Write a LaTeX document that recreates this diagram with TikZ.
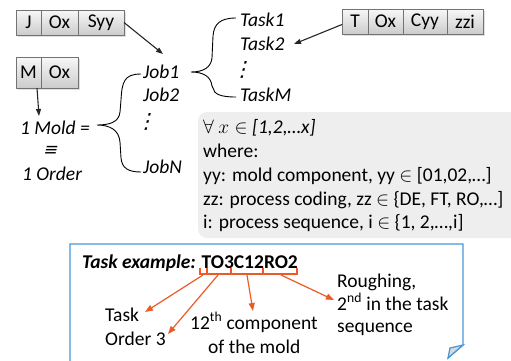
\documentclass[tikz,border=0pt]{standalone}
\usepackage{fix-cm}
\usepackage{fontspec}
\setmainfont{Carlito}
\newfontfamily\dotsfont[FakeSlant=0.25]{DejaVu Sans}
\usetikzlibrary{shadows,arrows.meta}
\definecolor{bluec}{RGB}{70,150,220}
\definecolor{orangec}{RGB}{236,90,40}
\begin{document}
\begin{tikzpicture}[x=1pt,y=-1pt,
  font=\fontsize{19.5}{23.5}\selectfont,
  cellbox/.style={draw=black!55, top color=gray!6, bottom color=gray!40,
    minimum height=25pt, inner sep=0pt, outer sep=0pt, anchor=north west,
    drop shadow={shadow xshift=2pt, shadow yshift=-2pt, opacity=0.25}},
  lbl/.style={anchor=base west, inner sep=0pt},
  itl/.style={anchor=base west, inner sep=0pt, font=\fontsize{19.5}{23.5}\selectfont\itshape},
  vdt/.style={inner sep=0pt, font=\fontsize{21}{21}\selectfont\dotsfont},
  blk/.style={-{Triangle[length=7pt,width=5pt]}, line width=1.1pt, black!85},
  org/.style={-{Triangle[length=8pt,width=6pt]}, line width=1.2pt, orangec},
  brk/.style={line width=1.8pt, orangec}]
\useasboundingbox (0,0) rectangle (511,360);
\clip (0,0) rectangle (511,360);

% gray note box
\fill[gray!13, rounded corners=9pt] (198,112) rectangle (540,238);

% J box
\node[cellbox, minimum width=25pt] (j1) at (16,10) {J};
\node[cellbox, minimum width=37pt] (j2) at (j1.north east) {Ox};
\node[cellbox, minimum width=46pt] (j3) at (j2.north east) {Syy};
% M box
\node[cellbox, minimum width=25pt, minimum height=31pt] (m1) at (16,57) {M};
\node[cellbox, minimum width=37pt, minimum height=31pt] (m2) at (m1.north east) {Ox};
% T box
\node[cellbox, minimum width=26pt] (t1) at (342,9) {T};
\node[cellbox, minimum width=35pt] (t2) at (t1.north east) {Ox};
\node[cellbox, minimum width=44pt] (t3) at (t2.north east) {Cyy};
\node[cellbox, minimum width=36pt] (t4) at (t3.north east) {zzi};

% jobs
\node[itl] (job1) at (143,78) {Job1};
\node[itl] (job2) at (143,101) {Job2};
\node[vdt] (jdots) at (146,122) {⋮};
\node[itl] (jobn) at (143,173) {JobN};
% tasks
\node[itl] (task1) at (240,26) {Task1};
\node[itl] (task2) at (240,50) {Task2};
\node[vdt] (tdots) at (242,70) {⋮};
\node[itl] (taskm) at (240,101) {TaskM};
% mold
\node[itl] (mold) at (20,134) {1 Mold =};
\node[inner sep=0pt, font=\fontsize{17}{17}\selectfont\dotsfont] (eqv) at (50,151) {≡};
\node[itl] (order) at (22,180) {1 Order};

% braces
\draw[line width=0.9pt] (141,74) .. controls (124,74) and (122,82) .. (121,100)
  -- (120,112) .. controls (119,122) and (110,125) .. (97,125)
  .. controls (110,125) and (119,130) .. (120,142)
  -- (121,158) .. controls (122,168) and (128,172) .. (141,172);
\draw[line width=0.9pt] (236,18) .. controls (220,18) and (214,24) .. (213,36)
  -- (212,58) .. controls (211,67) and (204,72) .. (191,72)
  .. controls (204,72) and (211,77) .. (212,86)
  -- (213,88) .. controls (214,94) and (220,97) .. (236,97);

% arrows
\coordinate (jA) at (163,54);
\coordinate (mA) at (39,116);
\coordinate (tA) at (294,44);
\draw[blk] (j3.east) -- (jA);
\draw[blk] ([xshift=-4pt]m1.south east) -- (mA);
\draw[blk] ([yshift=-3pt]t1.west) -- (tA);

% note text
\node[lbl] (g1) at (203,133) {$\forall\ x\in$ \textit{[1,2,…x]}};
\node[lbl] (g2) at (203,157) {where:};
\node[lbl] (g3) at (203,181) {yy: mold component, yy $\in$ [01,02,…]};
\node[lbl] (g4) at (203,205) {zz: process coding, zz $\in$ \{DE, FT, RO,…]};
\node[lbl] (g5) at (203,228) {i: process sequence, i $\in$ \{1, 2,…,i]};

% blue example box
\draw[bluec, line width=1.3pt] (70,370) -- (70,244) -- (463,244) -- (463,345) -- (448,358);
\filldraw[fill=gray!30, draw=bluec, line width=1.2pt] (463,345) -- (448,358) -- (450,348) -- cycle;

\node[lbl] (ex) at (82,268) {\textbf{\textit{Task example:}} \textbf{TO3C12RO2}};

% brackets
\draw[brk] (200,268) -- (200,274) -- (297,274) -- (297,268);
\draw[brk] (207,268) -- (207,274);
\draw[brk] (231,268) -- (231,274);
\draw[brk] (263,268) -- (263,274);
\coordinate (b1) at (203,275);
\coordinate (b2) at (218,275);
\coordinate (b3) at (247,275);
\coordinate (b4) at (281,275);
\coordinate (e1) at (145,312);
\coordinate (e2) at (168,334);
\coordinate (e3) at (253,311);
\coordinate (e4) at (334,300);
\draw[org] (b1) -- (e1);
\draw[org] (b2) -- (e2);
\draw[org] (b3) -- (e3);
\draw[org] (b4) -- (e4);

\node[lbl] (l1) at (105,321) {Task};
\node[lbl] (l2) at (105,345) {Order 3};
\node[lbl] (l3) at (190,329) {12\textsuperscript{th} component};
\node[lbl] (l4) at (208,353) {of the mold};
\node[lbl] (l5) at (337,287) {Roughing,};
\node[lbl] (l6) at (337,310) {2\textsuperscript{nd} in the task};
\node[lbl] (l7) at (337,332) {sequence};
\end{tikzpicture}
\end{document}
